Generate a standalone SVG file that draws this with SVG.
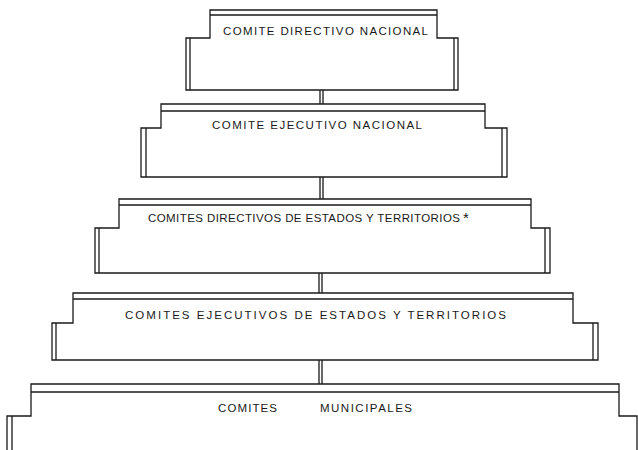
<svg xmlns="http://www.w3.org/2000/svg" width="638" height="450" viewBox="0 0 638 450">
<style>
.ln{fill:none;stroke:#1a1a1a;stroke-width:1.3;stroke-linejoin:miter}
.lb{font-family:"Liberation Sans",Arial,sans-serif;font-size:11.5px;fill:#1a1a1a}
</style>
<rect x="0" y="0" width="638" height="450" fill="#ffffff"/>
<g id="connectors" class="ln">
<path d="M320,90 V104 M323,90 V104"/>
<path d="M320,177 V199 M323,177 V199"/>
<path d="M319,273 V293 M322,273 V293"/>
<path d="M319,360 V384 M322,360 V384"/>
</g>
<g id="n1">
<path class="ln" d="M186,90 V38 H210 V10 H437 V38 H458 V90 Z M210,15 H437 M190,38 V90 M454,38 V90"/>
<text class="lb" x="223" y="35" textLength="205" lengthAdjust="spacing">COMITE DIRECTIVO NACIONAL</text>
</g>
<g id="n2">
<path class="ln" d="M141,177 V128 H161 V104 H485 V128 H507 V177 Z M161,111 H485 M146,128 V177 M502,128 V177"/>
<text class="lb" x="212" y="129" textLength="210" lengthAdjust="spacing">COMITE EJECUTIVO NACIONAL</text>
</g>
<g id="n3">
<path class="ln" d="M95,273 V228 H119 V199 H531 V228 H550 V273 Z M119,205 H531 M99,228 V273 M545,228 V273"/>
<text class="lb" x="148" y="222" textLength="312" lengthAdjust="spacing">COMITES DIRECTIVOS DE ESTADOS Y TERRITORIOS</text>
<text class="lb" x="463" y="223" style="font-size:15px">*</text>
</g>
<g id="n4">
<path class="ln" d="M52,360 V323 H73 V293 H573 V323 H598 V360 Z M73,299 H573 M56,323 V360 M593,323 V360"/>
<text class="lb" x="125" y="319" textLength="381" lengthAdjust="spacing">COMITES EJECUTIVOS DE ESTADOS Y TERRITORIOS</text>
</g>
<g id="n5">
<path class="ln" d="M7,452 V416 H31 V384 H619 V416 H637 V452 M31,392 H619 M12,416 V452"/>
<text class="lb" y="412"><tspan x="218" textLength="59" lengthAdjust="spacing">COMITES</tspan><tspan x="320" textLength="92" lengthAdjust="spacing">MUNICIPALES</tspan></text>
</g>
</svg>
